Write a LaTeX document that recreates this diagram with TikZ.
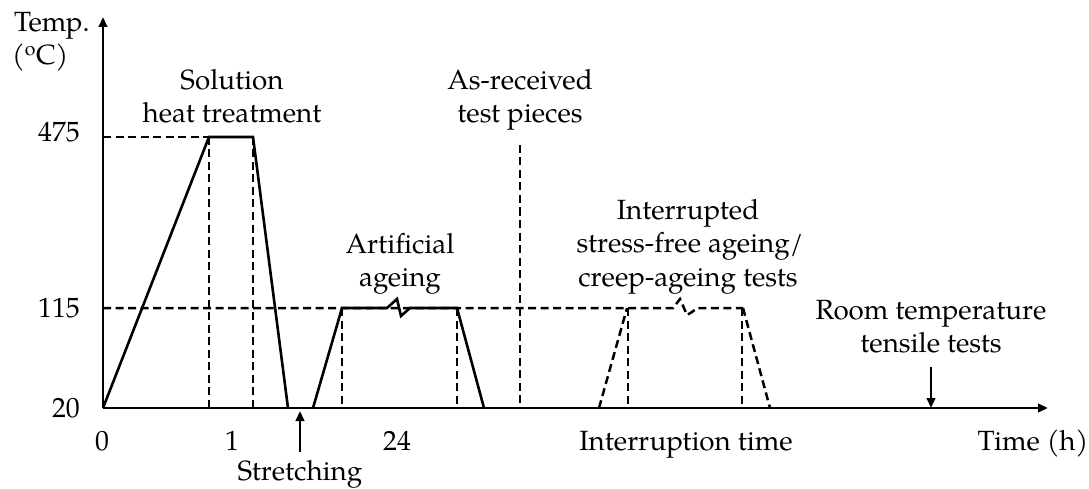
\documentclass[tikz,border=0pt]{standalone}
\usepackage{fontspec}
\setmainfont{texgyrepagella}[Extension=.otf, UprightFont=*-regular, BoldFont=*-bold, ItalicFont=*-italic, BoldItalicFont=*-bolditalic]
\usetikzlibrary{arrows.meta}

\begin{document}
\begin{tikzpicture}[x=1pt, y=-1pt,
  axis/.style={line width=2.8pt, -{Triangle[length=10pt,width=8.5pt]}},
  curve/.style={line width=2.6pt, line join=miter},
  guide/.style={line width=2.5pt, dash pattern=on 8pt off 4.5pt},
  pointer/.style={line width=2.4pt, -{Triangle[length=10pt,width=8.5pt]}},
  lbl/.style={anchor=base, inner sep=0pt, font=\fontsize{27.8}{33}\selectfont},
  lblr/.style={lbl, anchor=base east},
  lbll/.style={lbl, anchor=base west}]
\useasboundingbox (0,0) rectangle (1089,489);

% axes
\coordinate (O) at (103,408);
\coordinate (ytop) at (103,17);
\coordinate (xend) at (1048,408);
\draw[axis] (O) -- (ytop);
\draw[axis] (O) -- (xend);

% reference levels
\draw[guide] (103,137) -- (209,137);
\draw[guide] (103,308) -- (673,308) -- (680,299) -- (687,315) -- (692,312) -- (697,308) -- (743,308);

% vertical time markers
\draw[guide] (209,137) -- (209,408);
\draw[guide] (253,137) -- (253,408);
\draw[guide] (342,308) -- (342,408);
\draw[guide] (457,308) -- (457,408);
\draw[guide] (520,145) -- (520,408);
\draw[guide] (628,308) -- (628,408);
\draw[guide] (742,308) -- (742,408);

% solution heat treatment and quench
\draw[curve] (O) -- (209,137) -- (253,137) -- (288,408);
% artificial ageing
\draw[curve] (313,408) -- (342,308) -- (387,308) -- (397,299) -- (401,316) -- (410,308) -- (457,308) -- (484,408);
% interrupted ageing / creep-ageing
\draw[guide] (599,408) -- (627,308);
\draw[guide] (743,308) -- (770,408);

% event pointers
\coordinate (sTail) at (300,452);
\coordinate (sTip) at (300,411);
\draw[pointer] (sTail) -- (sTip);
\coordinate (rTail) at (931,367);
\coordinate (rTip) at (931,408);
\draw[pointer] (rTail) -- (rTip);

% axis titles
\node[lbll] (ttemp) at (14,32) {Temp.};
\node[lbll] (tunit) at (12,65) {(\textsuperscript{o}C)};
\node[lbl] (ttime) at (1033,450) {Time (h)};

% temperature ticks
\node[lblr] (t475) at (80,142) {475};
\node[lblr] (t115) at (80,317) {115};
\node[lblr] (t20) at (80,417) {20};

% time ticks
\node[lbl] (h0) at (102,450) {0};
\node[lbl] (h1) at (232,450) {1};
\node[lbl] (h24) at (397,450) {24};
\node[lbl] (hint) at (686,450) {Interruption time};

% stage labels
\node[lbl] (sol1) at (232,90) {Solution};
\node[lbl] (sol2) at (232,123) {heat treatment};
\node[lbl] (asr1) at (520,90) {As-received};
\node[lbl] (asr2) at (520,123) {test pieces};
\node[lbl] (art1) at (400,253) {Artificial};
\node[lbl] (art2) at (400,286) {ageing};
\node[lbl] (int1) at (688,219) {Interrupted};
\node[lbl] (int2) at (690,252) {stress-free ageing/};
\node[lbl] (int3) at (688,286) {creep-ageing tests};
\node[lbl] (rt1) at (931,319) {Room temperature};
\node[lbl] (rt2) at (931,352) {tensile tests};
\node[lbl] (str) at (300,480) {Stretching};
\end{tikzpicture}
\end{document}
